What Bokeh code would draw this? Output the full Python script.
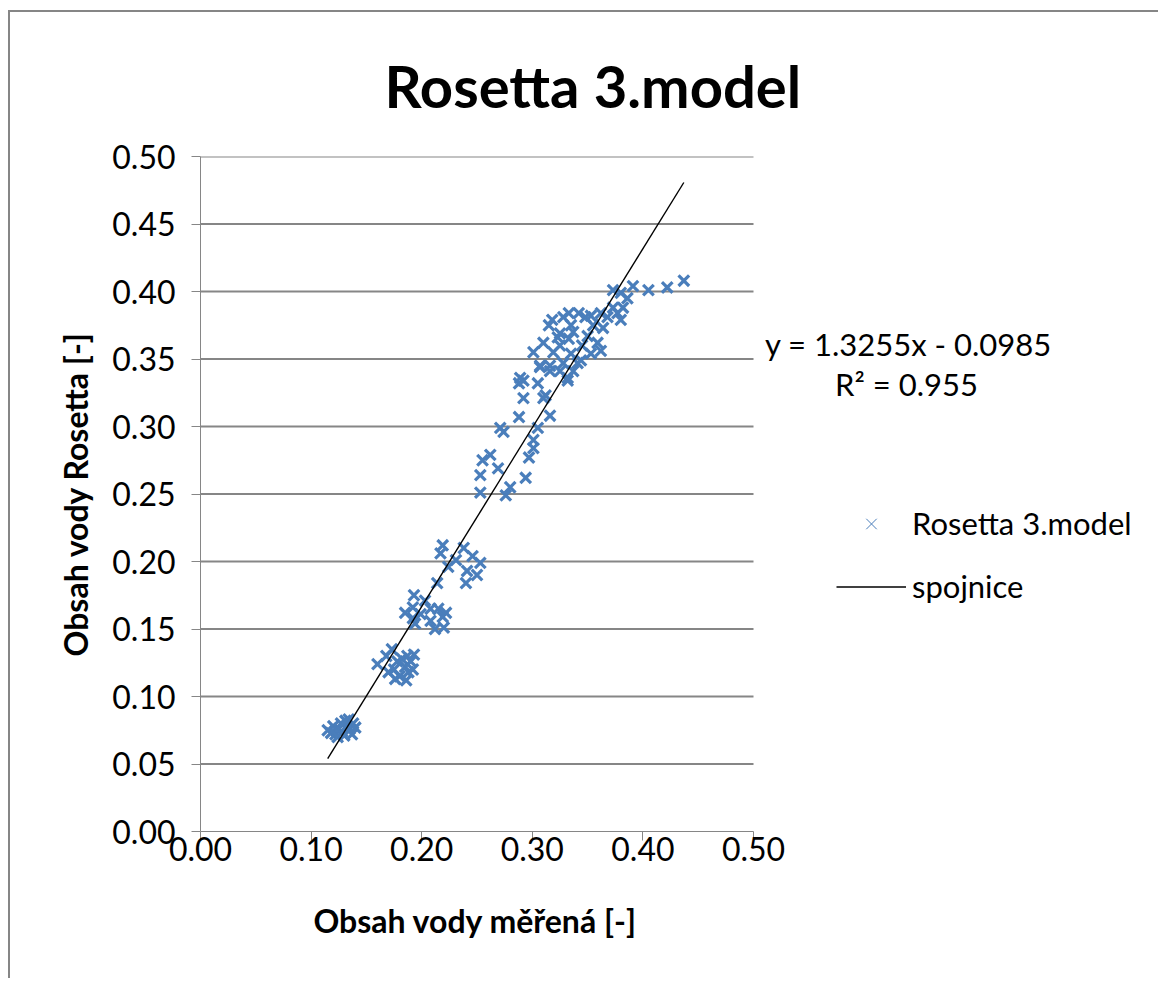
import numpy as np
from bokeh.plotting import figure
from bokeh.models import (Range1d, FixedTicker, PrintfTickFormatter, Label, Legend,
                          LegendItem, ColumnDataSource, Title)
from bokeh.embed import file_html
from bokeh.resources import INLINE

# ---------------- data ----------------
measured_x = [
    # lowest cluster
    0.115, 0.118, 0.120, 0.122, 0.125, 0.127, 0.128, 0.130, 0.132, 0.134, 0.135, 0.137, 0.138, 0.140, 0.124, 0.131,
    # cluster ~0.12
    0.160, 0.168, 0.170, 0.173, 0.175, 0.178, 0.180, 0.182, 0.185, 0.187, 0.188, 0.190, 0.192, 0.193, 0.186, 0.176,
    # cluster ~0.16
    0.193, 0.192, 0.199, 0.208, 0.215, 0.219, 0.220, 0.194, 0.192, 0.208, 0.203, 0.222, 0.185, 0.212,
    # cluster ~0.20
    0.219, 0.217, 0.224, 0.238, 0.246, 0.241, 0.250, 0.240, 0.214, 0.231, 0.253,
    # middle
    0.289, 0.288, 0.305, 0.292, 0.310, 0.288, 0.316, 0.271, 0.274, 0.305, 0.301, 0.301, 0.297,
    0.255, 0.262, 0.269, 0.253, 0.253, 0.280, 0.276, 0.294, 0.307, 0.316, 0.325, 0.332, 0.341,
    # upper cluster
    0.437, 0.422, 0.405, 0.391, 0.380, 0.373, 0.386, 0.382, 0.377, 0.368, 0.380, 0.364, 0.355,
    0.348, 0.342, 0.333, 0.328, 0.315, 0.335, 0.350, 0.359, 0.345, 0.333, 0.323, 0.310, 0.301,
    0.319, 0.335, 0.344, 0.328, 0.307, 0.316, 0.337, 0.332, 0.312, 0.292, 0.325, 0.337, 0.353,
    0.362, 0.373, 0.362, 0.353, 0.325, 0.318,
]
rosetta_y = [
    0.075, 0.073, 0.078, 0.072, 0.076, 0.080, 0.074, 0.071, 0.078, 0.083, 0.076, 0.072, 0.080, 0.077, 0.070, 0.082,
    0.124, 0.130, 0.118, 0.135, 0.120, 0.126, 0.115, 0.128, 0.122, 0.130, 0.118, 0.126, 0.120, 0.131, 0.112, 0.113,
    0.175, 0.166, 0.161, 0.165, 0.165, 0.159, 0.151, 0.154, 0.158, 0.156, 0.171, 0.162, 0.162, 0.150,
    0.212, 0.206, 0.196, 0.210, 0.204, 0.193, 0.190, 0.184, 0.184, 0.201, 0.199,
    0.336, 0.332, 0.332, 0.321, 0.321, 0.307, 0.308, 0.299, 0.296, 0.299, 0.290, 0.284, 0.277,
    0.275, 0.279, 0.269, 0.264, 0.251, 0.255, 0.249, 0.262, 0.344, 0.345, 0.341, 0.334, 0.347,
    0.408, 0.403, 0.401, 0.404, 0.399, 0.401, 0.395, 0.388, 0.384, 0.381, 0.379, 0.373, 0.375,
    0.381, 0.384, 0.384, 0.381, 0.375, 0.375, 0.367, 0.362, 0.360, 0.365, 0.366, 0.362, 0.355,
    0.355, 0.354, 0.349, 0.347, 0.345, 0.341, 0.341, 0.336, 0.323, 0.334, 0.369, 0.370, 0.382,
    0.384, 0.388, 0.356, 0.354, 0.360, 0.379,
]
fit_slope = 1.3255
fit_intercept = -0.0985
y_tick_values = [0.0, 0.05, 0.10, 0.15, 0.20, 0.25, 0.30, 0.35, 0.40, 0.45, 0.50]
x_tick_values = [0.0, 0.1, 0.2, 0.3, 0.4, 0.5]
axis_min, axis_max = 0.0, 0.5

title_text = "Rosetta 3.model"
x_label = "Obsah vody měřená [-]"
y_label = "Obsah vody Rosetta [-]"
series_name = "Rosetta 3.model"
line_name = "spojnice"
eq_text = "y = 1.3255x - 0.0985"
r2_text = "R² = 0.955"

FONT = "Lato"
BLUE = "#4a7ebb"
GREY = "#868686"

# ---------------- layout (pixels) ----------------
W, H = 1150, 968
BL, BT, BR = 190, 144, 5
PLOT_W = 553            # width of the 0..0.5 plotting box
FRAME_W = W - BL - BR
FRAME_H = 675
BB = H - BT - FRAME_H

x_end = axis_max * FRAME_W / PLOT_W   # frame extends to the right for legend/equation

x0, x1 = min(measured_x), max(measured_x)
fit_x = [x0, x1]
fit_y = [fit_slope * v + fit_intercept for v in fit_x]

p = figure(width=W, height=H, output_backend="svg", toolbar_location=None,
           x_range=Range1d(axis_min, x_end), y_range=Range1d(axis_min, axis_max),
           min_border_left=BL, min_border_top=BT, min_border_right=BR, min_border_bottom=BB,
           styles={"margin-left": "8px", "margin-top": "10px",
                   "border-left": "2px solid #868686", "border-top": "2px solid #868686"})
p.outline_line_color = None
p.background_fill_color = "white"
p.xgrid.grid_line_color = None
p.ygrid.grid_line_color = None

# horizontal gridlines limited to the 0..0.5 box
g_ticks = y_tick_values[1:]
p.segment(x0=[axis_min] * len(g_ticks), x1=[axis_max] * len(g_ticks), y0=g_ticks, y1=g_ticks,
          line_color=GREY, line_width=2)

sc = p.scatter(measured_x, rosetta_y, marker="x", size=15, line_width=3.2, line_color=BLUE)
ln = p.line(fit_x, fit_y, line_color="black", line_width=1.4)

# legend proxies (thin marker like the reference legend); NaN point is never drawn
proxy = ColumnDataSource(data=dict(x=np.array([np.nan]), y=np.array([np.nan])))
leg_sc = p.scatter("x", "y", source=proxy, marker="x", size=11, line_width=1, line_color=BLUE)
leg_ln = p.line("x", "y", source=proxy, line_color="black", line_width=1.4)

# axes
for ax in (p.xaxis[0], p.yaxis[0]):
    ax.axis_line_color = GREY
    ax.axis_line_width = 1
    ax.major_tick_line_color = GREY
    ax.major_tick_in = 0
    ax.major_tick_out = 9
    ax.minor_tick_line_color = None
    ax.major_label_text_font = FONT
    ax.major_label_text_font_size = "32px"
    ax.major_label_text_color = "black"
    ax.axis_label_text_font = FONT
    ax.axis_label_text_font_style = "bold"
    ax.axis_label_text_font_size = "32px"
    ax.axis_label_text_color = "black"
    ax.formatter = PrintfTickFormatter(format="%.2f")

p.xaxis[0].ticker = FixedTicker(ticks=x_tick_values)
p.yaxis[0].ticker = FixedTicker(ticks=y_tick_values)
p.xaxis[0].bounds = (axis_min, axis_max)
p.yaxis[0].axis_label = y_label
p.xaxis[0].major_label_standoff = -4
p.yaxis[0].major_label_standoff = 16
p.yaxis[0].axis_label_standoff = 14

# title and x-axis label as side-panel titles (left-aligned with pixel offsets)
p.add_layout(Title(text=title_text, text_font=FONT, text_font_style="bold", text_font_size="58px",
                   align="left", offset=184, standoff=73, text_color="black"), "above")
p.add_layout(Title(text=x_label, text_font=FONT, text_font_style="bold", text_font_size="32px",
                   align="left", offset=113, standoff=70, text_color="black"), "below")

legend = Legend(items=[LegendItem(label=series_name, renderers=[leg_sc]),
                       LegendItem(label=line_name, renderers=[leg_ln])],
                location=(636, 226), glyph_width=70, glyph_height=37,
                label_standoff=6, spacing=25, padding=0, margin=0,
                border_line_color=None, background_fill_alpha=0,
                label_text_font=FONT, label_text_font_size="31px", label_height=37,
                label_text_color="black")
p.add_layout(legend)

p.add_layout(Label(x=708, y=488, x_units="screen", y_units="screen", text=eq_text,
                   text_font=FONT, text_font_size="31px",
                   text_align="center", text_baseline="middle", text_color="black"))
p.add_layout(Label(x=706, y=448, x_units="screen", y_units="screen", text=r2_text,
                   text_font=FONT, text_font_size="31px",
                   text_align="center", text_baseline="middle", text_color="black"))

open("out.html", "w").write(file_html(p, INLINE))
